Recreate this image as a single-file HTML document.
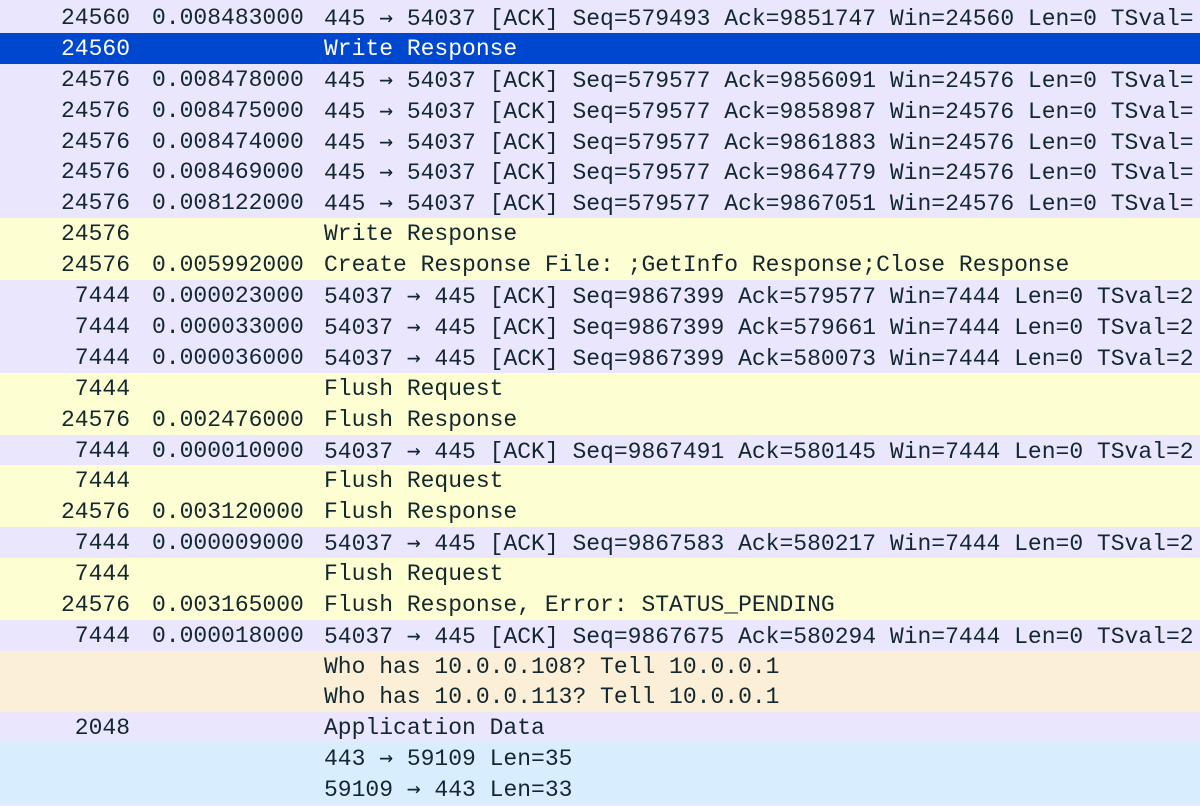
<!DOCTYPE html>
<html><head><style>
body{margin:0;width:1200px;height:800px;overflow:hidden;background:#e9e6fd;font-family:"Liberation Mono",monospace;font-size:23px;color:#13272e}
.r{position:absolute;left:0;width:1200px;height:31px;line-height:32px;white-space:pre}
.r span{position:absolute;top:0}
.r i{font-style:normal;font-family:"DejaVu Sans Mono",monospace;font-size:22.9px}
.a{right:1070px;text-align:right}
.b{left:152px}
.c{left:324px}
.L{background:#e9e6fd}.Y{background:#fefed3}.S{background:#0047d0;color:#fff}.O{background:#fcefd8}.B{background:#d8eefe}
</style></head><body>
<div class="r L" style="top:2px"><span class="a">24560</span><span class="b">0.008483000</span><span class="c">445 <i>→</i> 54037 [ACK] Seq=579493 Ack=9851747 Win=24560 Len=0 TSval=</span></div>
<div class="r S" style="top:33px"><span class="a">24560</span><span class="c">Write Response</span></div>
<div class="r L" style="top:64px"><span class="a">24576</span><span class="b">0.008478000</span><span class="c">445 <i>→</i> 54037 [ACK] Seq=579577 Ack=9856091 Win=24576 Len=0 TSval=</span></div>
<div class="r L" style="top:95px"><span class="a">24576</span><span class="b">0.008475000</span><span class="c">445 <i>→</i> 54037 [ACK] Seq=579577 Ack=9858987 Win=24576 Len=0 TSval=</span></div>
<div class="r L" style="top:126px"><span class="a">24576</span><span class="b">0.008474000</span><span class="c">445 <i>→</i> 54037 [ACK] Seq=579577 Ack=9861883 Win=24576 Len=0 TSval=</span></div>
<div class="r L" style="top:156px"><span class="a">24576</span><span class="b">0.008469000</span><span class="c">445 <i>→</i> 54037 [ACK] Seq=579577 Ack=9864779 Win=24576 Len=0 TSval=</span></div>
<div class="r L" style="top:187px"><span class="a">24576</span><span class="b">0.008122000</span><span class="c">445 <i>→</i> 54037 [ACK] Seq=579577 Ack=9867051 Win=24576 Len=0 TSval=</span></div>
<div class="r Y" style="top:218px"><span class="a">24576</span><span class="c">Write Response</span></div>
<div class="r Y" style="top:249px"><span class="a">24576</span><span class="b">0.005992000</span><span class="c">Create Response File: ;GetInfo Response;Close Response</span></div>
<div class="r L" style="top:280px"><span class="a">7444</span><span class="b">0.000023000</span><span class="c">54037 <i>→</i> 445 [ACK] Seq=9867399 Ack=579577 Win=7444 Len=0 TSval=2</span></div>
<div class="r L" style="top:311px"><span class="a">7444</span><span class="b">0.000033000</span><span class="c">54037 <i>→</i> 445 [ACK] Seq=9867399 Ack=579661 Win=7444 Len=0 TSval=2</span></div>
<div class="r L" style="top:342px"><span class="a">7444</span><span class="b">0.000036000</span><span class="c">54037 <i>→</i> 445 [ACK] Seq=9867399 Ack=580073 Win=7444 Len=0 TSval=2</span></div>
<div class="r Y" style="top:373px"><span class="a">7444</span><span class="c">Flush Request</span></div>
<div class="r Y" style="top:404px"><span class="a">24576</span><span class="b">0.002476000</span><span class="c">Flush Response</span></div>
<div class="r L" style="top:435px"><span class="a">7444</span><span class="b">0.000010000</span><span class="c">54037 <i>→</i> 445 [ACK] Seq=9867491 Ack=580145 Win=7444 Len=0 TSval=2</span></div>
<div class="r Y" style="top:465px"><span class="a">7444</span><span class="c">Flush Request</span></div>
<div class="r Y" style="top:496px"><span class="a">24576</span><span class="b">0.003120000</span><span class="c">Flush Response</span></div>
<div class="r L" style="top:527px"><span class="a">7444</span><span class="b">0.000009000</span><span class="c">54037 <i>→</i> 445 [ACK] Seq=9867583 Ack=580217 Win=7444 Len=0 TSval=2</span></div>
<div class="r Y" style="top:558px"><span class="a">7444</span><span class="c">Flush Request</span></div>
<div class="r Y" style="top:589px"><span class="a">24576</span><span class="b">0.003165000</span><span class="c">Flush Response, Error: STATUS_PENDING</span></div>
<div class="r L" style="top:620px"><span class="a">7444</span><span class="b">0.000018000</span><span class="c">54037 <i>→</i> 445 [ACK] Seq=9867675 Ack=580294 Win=7444 Len=0 TSval=2</span></div>
<div class="r O" style="top:651px"><span class="c">Who has 10.0.0.108? Tell 10.0.0.1</span></div>
<div class="r O" style="top:681px;height:31px"><span class="c">Who has 10.0.0.113? Tell 10.0.0.1</span></div>
<div class="r L" style="top:712px"><span class="a">2048</span><span class="c">Application Data</span></div>
<div class="r B" style="top:742px"><span class="c">443 <i>→</i> 59109 Len=35</span></div>
<div class="r B" style="top:773px;height:31px"><span class="c">59109 <i>→</i> 443 Len=33</span></div>
</body></html>
